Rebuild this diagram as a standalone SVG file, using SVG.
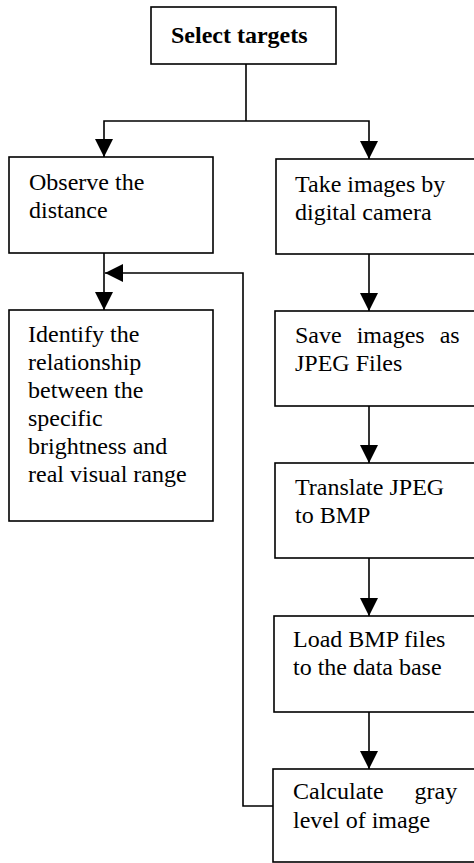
<svg xmlns="http://www.w3.org/2000/svg" width="474" height="863" viewBox="0 0 474 863">
<style>
.box{fill:#fff;stroke:#000;stroke-width:1.6}
.t{font-family:"Liberation Serif","Times New Roman",serif;font-size:24px;fill:#000}
.b{font-weight:bold}
.c{fill:none;stroke:#000;stroke-width:1.6}
</style>
<defs>
<marker id="ah" viewBox="0 0 18 18" refX="18" refY="9" markerWidth="18" markerHeight="18" orient="auto" markerUnits="userSpaceOnUse">
<path d="M0,0 L18,9 L0,18 z" fill="#000"/>
</marker>
</defs>
<rect width="474" height="863" fill="#fff"/>
<g id="connectors">
<path class="c" d="M246,64 V121"/>
<path class="c" d="M246,121 H104 V157" marker-end="url(#ah)"/>
<path class="c" d="M246,121 H369 V159" marker-end="url(#ah)"/>
<path class="c" d="M104,253 V310" marker-end="url(#ah)"/>
<path class="c" d="M273,806 H243 V273 H105" marker-end="url(#ah)"/>
<path class="c" d="M369,254 V311" marker-end="url(#ah)"/>
<path class="c" d="M369,406 V463" marker-end="url(#ah)"/>
<path class="c" d="M369,558 V616" marker-end="url(#ah)"/>
<path class="c" d="M369,712 V769" marker-end="url(#ah)"/>
</g>
<g id="select">
<rect class="box" x="151" y="7" width="185" height="57"/>
<text class="t b" x="171" y="43">Select targets</text>
</g>
<g id="observe">
<rect class="box" x="9" y="157" width="204" height="96"/>
<text class="t" x="29" y="190">Observe the</text>
<text class="t" x="29" y="218">distance</text>
</g>
<g id="identify">
<rect class="box" x="9" y="310" width="204" height="211"/>
<text class="t" x="28" y="342">Identify the</text>
<text class="t" x="28" y="370">relationship</text>
<text class="t" x="28" y="398">between the</text>
<text class="t" x="28" y="426">specific</text>
<text class="t" x="28" y="454">brightness and</text>
<text class="t" x="28" y="482">real visual range</text>
</g>
<g id="take">
<rect class="box" x="276" y="159" width="210" height="95"/>
<text class="t" x="295" y="192">Take images by</text>
<text class="t" x="295" y="220">digital camera</text>
</g>
<g id="save">
<rect class="box" x="275" y="311" width="210" height="95"/>
<text class="t" x="295" y="343" word-spacing="9">Save images as</text>
<text class="t" x="295" y="371">JPEG Files</text>
</g>
<g id="translate">
<rect class="box" x="275" y="463" width="210" height="95"/>
<text class="t" x="295" y="495">Translate JPEG</text>
<text class="t" x="295" y="523">to BMP</text>
</g>
<g id="load">
<rect class="box" x="274" y="616" width="210" height="96"/>
<text class="t" x="293" y="647">Load BMP files</text>
<text class="t" x="293" y="675">to the data base</text>
</g>
<g id="calculate">
<rect class="box" x="273" y="769" width="210" height="93"/>
<text class="t" x="293" y="799" word-spacing="25">Calculate gray</text>
<text class="t" x="293" y="828">level of image</text>
</g>
</svg>
